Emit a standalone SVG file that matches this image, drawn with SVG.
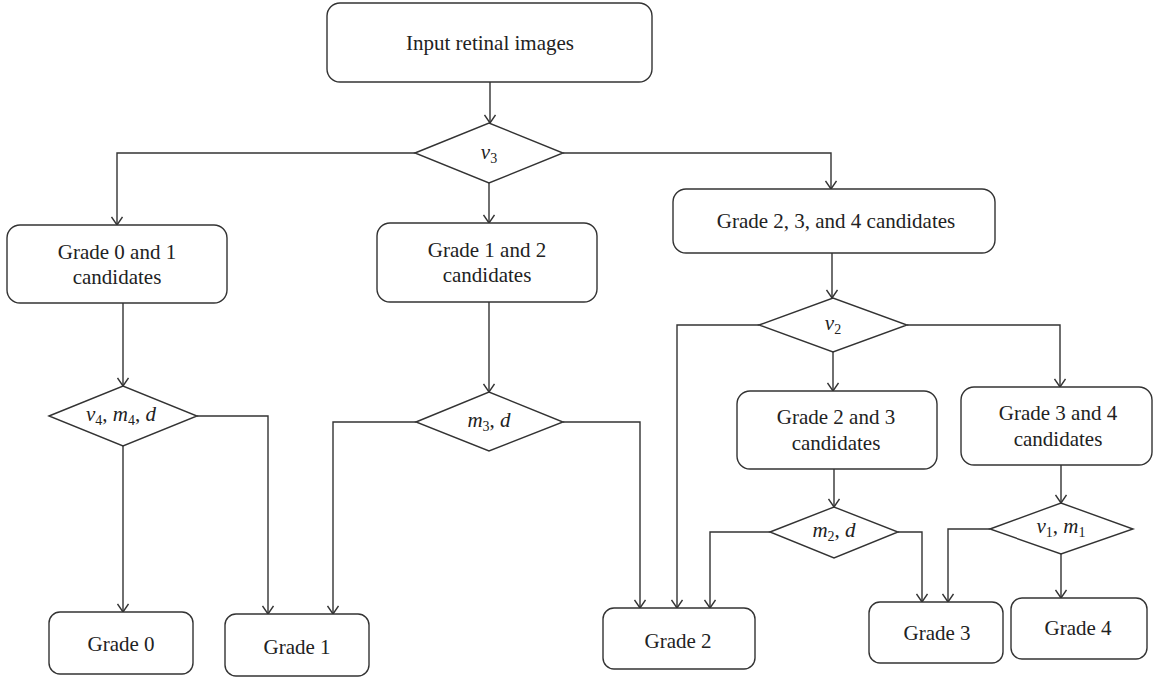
<svg xmlns="http://www.w3.org/2000/svg" width="1156" height="678" viewBox="0 0 1156 678">
<style>
.box{fill:#fff;stroke:#333;stroke-width:1.4}
.dia{fill:#fff;stroke:#333;stroke-width:1.4}
.t{font-family:"Liberation Serif","Times New Roman",serif;font-size:21px;fill:#222;text-anchor:middle}
.m{font-style:italic}
.s{font-size:14px;font-style:normal}
.c{fill:none;stroke:#333;stroke-width:1.4;marker-end:url(#ar)}
</style>
<defs>
<marker id="ar" viewBox="-10 -6 12 12" refX="0" refY="0" markerWidth="12" markerHeight="12" markerUnits="userSpaceOnUse" orient="auto">
<path d="M-8,-5.5 L0,0 L-8,5.5" fill="none" stroke="#333" stroke-width="1.4"/>
</marker>
</defs>
<rect width="1156" height="678" fill="#fff"/>
<g id="connectors">
<path class="c" d="M490,82 V123"/>
<path class="c" d="M415,153 H117 V225"/>
<path class="c" d="M563,153 H831 V189"/>
<path class="c" d="M489,183 V223"/>
<path class="c" d="M123,303 V386"/>
<path class="c" d="M197,416 H268 V614"/>
<path class="c" d="M123,446 V612"/>
<path class="c" d="M489,302 V392"/>
<path class="c" d="M416,422 H333 V614"/>
<path class="c" d="M563,422 H640 V608"/>
<path class="c" d="M832,253 V298"/>
<path class="c" d="M759,325 H677 V608"/>
<path class="c" d="M907,325 H1060 V387"/>
<path class="c" d="M833,352 V391"/>
<path class="c" d="M834,469 V507"/>
<path class="c" d="M770,532 H710 V608"/>
<path class="c" d="M898,532 H922 V602"/>
<path class="c" d="M1061,465 V503"/>
<path class="c" d="M990,529 H948 V602"/>
<path class="c" d="M1061,554 V598"/>
</g>
<g id="input">
<rect class="box" x="327" y="3" width="325" height="79" rx="13"/>
<text class="t" x="490" y="50">Input retinal images</text>
</g>
<g id="d-v3">
<polygon class="dia" points="415,153 489,123 563,153 489,183"/>
<text class="t" x="489" y="159"><tspan class="m">v</tspan><tspan class="s" dy="4">3</tspan></text>
</g>
<g id="g01">
<rect class="box" x="7" y="225" width="220" height="78" rx="13"/>
<text class="t" x="117" y="259">Grade 0 and 1</text>
<text class="t" x="117" y="284">candidates</text>
</g>
<g id="g12">
<rect class="box" x="377" y="223" width="220" height="79" rx="13"/>
<text class="t" x="487" y="257">Grade 1 and 2</text>
<text class="t" x="487" y="282">candidates</text>
</g>
<g id="g234">
<rect class="box" x="673" y="189" width="322" height="64" rx="13"/>
<text class="t" x="836" y="228">Grade 2, 3, and 4 candidates</text>
</g>
<g id="d-v4">
<polygon class="dia" points="49,416 123,386 197,416 123,446"/>
<text class="t" x="121" y="421"><tspan class="m">v</tspan><tspan class="s" dy="4">4</tspan><tspan dy="-4">, </tspan><tspan class="m">m</tspan><tspan class="s" dy="4">4</tspan><tspan dy="-4">, </tspan><tspan class="m">d</tspan></text>
</g>
<g id="d-m3">
<polygon class="dia" points="416,422 489,392 563,422 489,451"/>
<text class="t" x="489" y="427"><tspan class="m">m</tspan><tspan class="s" dy="4">3</tspan><tspan dy="-4">, </tspan><tspan class="m">d</tspan></text>
</g>
<g id="d-v2">
<polygon class="dia" points="759,325 833,298 907,325 833,352"/>
<text class="t" x="833" y="330"><tspan class="m">v</tspan><tspan class="s" dy="4">2</tspan></text>
</g>
<g id="g23">
<rect class="box" x="737" y="391" width="200" height="78" rx="13"/>
<text class="t" x="836" y="424">Grade  2  and 3</text>
<text class="t" x="836" y="450">candidates</text>
</g>
<g id="g34">
<rect class="box" x="961" y="387" width="191" height="78" rx="13"/>
<text class="t" x="1058" y="420">Grade  3  and 4</text>
<text class="t" x="1058" y="446">candidates</text>
</g>
<g id="d-m2">
<polygon class="dia" points="770,532 834,507 898,532 834,558"/>
<text class="t" x="834" y="537"><tspan class="m">m</tspan><tspan class="s" dy="4">2</tspan><tspan dy="-4">, </tspan><tspan class="m">d</tspan></text>
</g>
<g id="d-v1">
<polygon class="dia" points="990,529 1061,503 1133,529 1061,554"/>
<text class="t" x="1061" y="533"><tspan class="m">v</tspan><tspan class="s" dy="4">1</tspan><tspan dy="-4">, </tspan><tspan class="m">m</tspan><tspan class="s" dy="4">1</tspan></text>
</g>
<g id="grade0">
<rect class="box" x="49" y="612" width="144" height="62" rx="11"/>
<text class="t" x="121" y="651">Grade 0</text>
</g>
<g id="grade1">
<rect class="box" x="225" y="614" width="144" height="62" rx="11"/>
<text class="t" x="297" y="654">Grade 1</text>
</g>
<g id="grade2">
<rect class="box" x="603" y="608" width="152" height="61" rx="11"/>
<text class="t" x="678" y="648">Grade 2</text>
</g>
<g id="grade3">
<rect class="box" x="869" y="602" width="134" height="61" rx="11"/>
<text class="t" x="937" y="640">Grade 3</text>
</g>
<g id="grade4">
<rect class="box" x="1011" y="598" width="136" height="61" rx="11"/>
<text class="t" x="1078" y="635">Grade 4</text>
</g>
</svg>
